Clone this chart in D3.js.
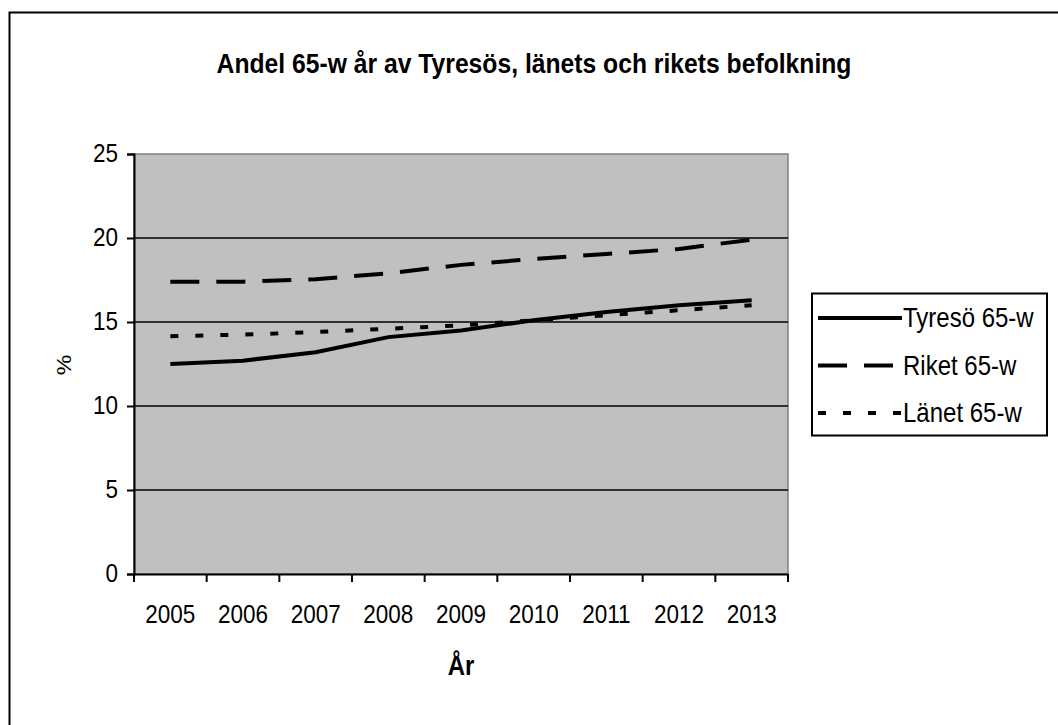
<!DOCTYPE html>
<html>
<head>
<meta charset="utf-8">
<script src="https://cdn.jsdelivr.net/npm/d3@7/dist/d3.min.js"></script>
<style>
  body { margin: 0; background: #fff; }
  text { font-family: "Liberation Sans", Arial, sans-serif; fill: #000; }
</style>
</head>
<body>
<svg id="chart"></svg>
<script>
const years = ["2005", "2006", "2007", "2008", "2009", "2010", "2011", "2012", "2013"];
const tyreso = [12.5, 12.7, 13.2, 14.1, 14.5, 15.1, 15.6, 16.0, 16.3];
const riket = [17.4, 17.4, 17.55, 17.9, 18.4, 18.75, 19.05, 19.35, 19.9];
const lanet = [14.15, 14.25, 14.4, 14.6, 14.8, 15.1, 15.4, 15.7, 16.0];
const yTicks = [0, 5, 10, 15, 20, 25];

const seriesNames = ["Tyresö 65-w", "Riket 65-w", "Länet 65-w"];
const seriesValues = [tyreso, riket, lanet];
const dashes = [null, "29,17", "8,17"];

const W = 1058, H = 725;
const plot = { left: 134, right: 788, top: 154, bottom: 574 };
const stretch = 1.15;

const svg = d3.select("#chart").attr("width", W).attr("height", H);

// outer chart border (runs off the right/bottom edge)
svg.append("rect")
  .attr("x", 9.5).attr("y", 12.5)
  .attr("width", 1100).attr("height", 800)
  .attr("fill", "#fff").attr("stroke", "#000").attr("stroke-width", 2);

const x = d3.scaleBand().domain(years).range([plot.left, plot.right]);
const y = d3.scaleLinear().domain([0, 25]).range([plot.bottom, plot.top]);

function label(g, tx, ty, str, opts) {
  const t = g.append("text")
    .attr("transform", `translate(${tx},${ty}) scale(1,${stretch})` + (opts.rotate ? ` rotate(${opts.rotate})` : ""))
    .attr("text-anchor", opts.anchor || "middle")
    .style("font-size", opts.size + "px")
    .style("font-weight", opts.bold ? "bold" : "normal")
    .text(str);
  return t;
}

// plot area
svg.append("rect")
  .attr("x", plot.left).attr("y", plot.top)
  .attr("width", plot.right - plot.left).attr("height", plot.bottom - plot.top)
  .attr("fill", "#c0c0c0").attr("stroke", "#808080").attr("stroke-width", 1.5);

// gridlines
svg.append("g").selectAll("line")
  .data(yTicks.filter(d => d > 0 && d < 25))
  .join("line")
  .attr("x1", plot.left).attr("x2", plot.right)
  .attr("y1", d => y(d)).attr("y2", d => y(d))
  .attr("stroke", "#000").attr("stroke-width", 1.6);

// y axis
const yAxis = svg.append("g")
  .attr("transform", `translate(${plot.left},0)`)
  .call(d3.axisLeft(y).tickValues(yTicks).tickSize(7).tickFormat(""));
yAxis.select(".domain").attr("stroke", "#000").attr("stroke-width", 2);
yAxis.selectAll(".tick line").attr("stroke", "#000").attr("stroke-width", 2);
yTicks.forEach(v => label(svg, 118, y(v) + 8, String(v), { anchor: "end", size: 22.5 }));

// x axis
const xAxis = svg.append("g")
  .attr("transform", `translate(0,${plot.bottom})`)
  .call(d3.axisBottom(x).tickSize(0).tickFormat(""));
xAxis.select(".domain").attr("stroke", "#000").attr("stroke-width", 2);
const bounds = years.map(d => x(d)).concat([plot.right]);
svg.append("g").selectAll("line")
  .data(bounds)
  .join("line")
  .attr("x1", d => d).attr("x2", d => d)
  .attr("y1", plot.bottom).attr("y2", plot.bottom + 8)
  .attr("stroke", "#000").attr("stroke-width", 2);
years.forEach(d => label(svg, x(d) + x.bandwidth() / 2, 623, d, { size: 22.5 }));

// series lines
const line = d3.line()
  .x((d, i) => x(years[i]) + x.bandwidth() / 2)
  .y(d => y(d));
seriesValues.forEach((vals, i) => {
  svg.append("path")
    .datum(vals)
    .attr("d", line)
    .attr("fill", "none")
    .attr("stroke", "#000")
    .attr("stroke-width", 4)
    .attr("stroke-dasharray", dashes[i]);
});

// titles
label(svg, 534, 73, "Andel 65-w år av Tyresös, länets och rikets befolkning", { size: 24.7, bold: true });
label(svg, 461, 675, "År", { size: 24, bold: true });
label(svg, 71, 365, "%", { size: 20, rotate: -90 });

// legend
const legend = svg.append("g");
legend.append("rect")
  .attr("x", 812).attr("y", 293.5)
  .attr("width", 235).attr("height", 142)
  .attr("fill", "#fff").attr("stroke", "#000").attr("stroke-width", 2);
const legendY = d3.scalePoint().domain(seriesNames).range([318, 413]);
seriesNames.forEach((name, i) => {
  legend.append("line")
    .attr("x1", 818).attr("x2", 902)
    .attr("y1", legendY(name)).attr("y2", legendY(name))
    .attr("stroke", "#000").attr("stroke-width", 4)
    .attr("stroke-dasharray", dashes[i]);
  label(legend, 903, legendY(name) + 9, name, { anchor: "start", size: 24 });
});
</script>
</body>
</html>
